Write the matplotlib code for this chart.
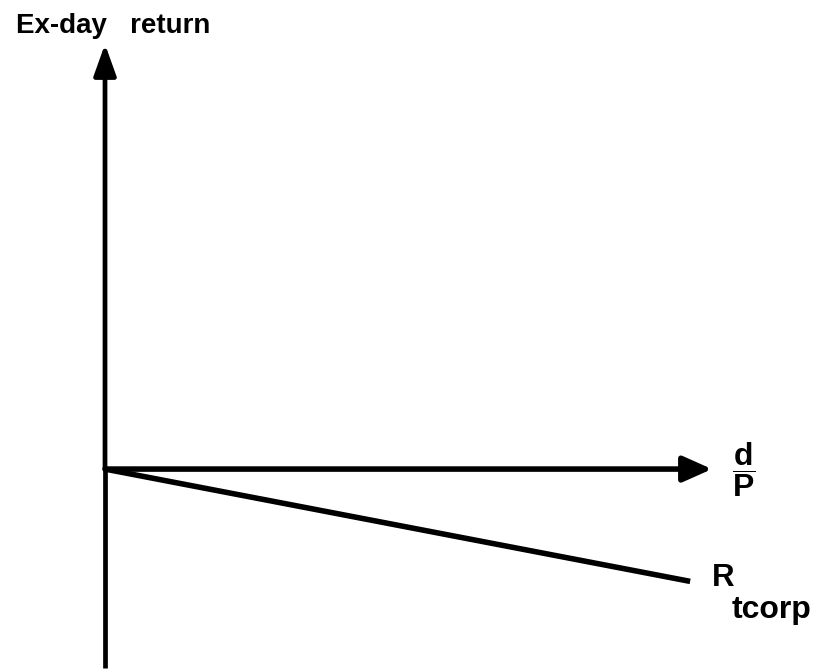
import matplotlib
matplotlib.use("Agg")
import matplotlib.pyplot as plt

plt.rcParams['font.family'] = ['Liberation Sans', 'DejaVu Sans']
plt.rcParams['mathtext.fontset'] = 'custom'
plt.rcParams['mathtext.rm'] = 'Liberation Sans:bold'
plt.rcParams['mathtext.bf'] = 'Liberation Sans:bold'

# Axis extents (dividend yield d/P on x, ex-day return on y)
x_axis_end = 1.0
y_axis_top = 0.700
y_axis_bottom = -0.328

# Ex-day return line under the corporate-trader hypothesis
rtcorp_x = [0.0, 0.964]
rtcorp_y = [0.0, -0.185]

y_label = "Ex-day   return"
x_label = r"$\mathbf{\dfrac{d}{P}}$"
line_label_main = "R"
line_label_sub = "tcorp"

fig = plt.figure(figsize=(8.21, 6.70), dpi=100)
ax = fig.add_axes([0, 0, 1, 1])
ax.set_xlim(-0.173, 1.1796)
ax.set_ylim(-0.331, 0.7727)
ax.axis('off')

arrow = dict(arrowstyle='-|>,head_length=1.9,head_width=0.68',
             lw=3.4, color='black', shrinkA=0, shrinkB=0,
             mutation_scale=10)

# vertical axis: arrow upward, plain extension downward
ax.annotate('', xy=(0, y_axis_top), xytext=(0, 0), arrowprops=arrow)
ax.plot([0, 0], [0, y_axis_bottom], color='black', lw=3.4,
        solid_capstyle='butt')

# horizontal axis arrow
ax.annotate('', xy=(x_axis_end, 0), xytext=(0, 0),
            arrowprops=dict(arrow, arrowstyle='-|>,head_length=1.75,head_width=0.78', lw=4.0))

# R_tcorp line
ax.plot(rtcorp_x, rtcorp_y, color='black', lw=4.0, solid_capstyle='butt')

ax.text(-0.146, 0.718, y_label, fontsize=20, fontweight='bold',
        ha='left', va='baseline')
ax.text(1.053, 0.0, x_label, fontsize=23, ha='center', va='center')
ax.text(1.0, -0.192, line_label_main, fontsize=22.5, fontweight='bold',
        ha='left', va='baseline')
ax.text(1.032, -0.245, line_label_sub, fontsize=23, fontweight='bold',
        ha='left', va='baseline')

fig.savefig('out.png', dpi=100)
